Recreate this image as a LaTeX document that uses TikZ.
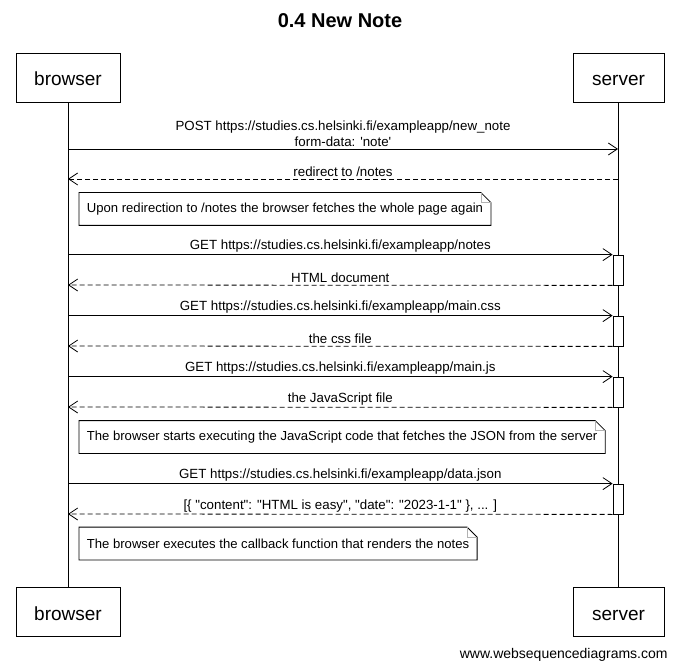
\documentclass[tikz,border=0pt]{standalone}
\usepackage{fontspec}
\setmainfont{Liberation Sans}[Ligatures=TeXOff]
\usetikzlibrary{arrows.meta}

\begin{document}
\begin{tikzpicture}[x=1pt,y=-1pt,line width=0.8pt,>={Straight Barb[length=9pt,width=12pt]},font=\fontsize{13.3}{15.5}\selectfont]
\tikzstyle{actor}=[draw,minimum height=49pt,text height=18pt,text depth=2pt,font=\fontsize{19}{22}\selectfont]
\tikzstyle{msg}=[->]
\tikzstyle{reply}=[->,dash pattern=on 5pt off 3pt]
\tikzstyle{act}=[draw,fill=white,minimum width=10pt,minimum height=30pt,inner sep=0pt]
\tikzstyle{lbl}=[above,inner sep=2pt,align=center]
\tikzstyle{note}=[anchor=west,inner xsep=7.5pt,minimum height=32pt,font=\fontsize{13.1}{15}\selectfont]
\useasboundingbox (0,0) rectangle (678,671);
\node[font=\bfseries\fontsize{20}{24}\selectfont] (title) at (340,21) {0.4 New Note};
\node[actor,minimum width=104pt] (browserTop) at (68,77.5) {browser};
\node[actor,minimum width=91pt] (serverTop) at (618.5,77.5) {server};
\node[actor,minimum width=104pt] (browserBot) at (68,612) {browser};
\node[actor,minimum width=91pt] (serverBot) at (618.5,612) {server};
\draw (browserTop) -- (browserBot);
\draw (serverTop) -- (serverBot);
\coordinate (b1) at (68,149);
\coordinate (s1) at (618,149);
\coordinate (b2) at (68,179);
\coordinate (s2) at (618,179);
\coordinate (b4) at (68,285);
\coordinate (b6) at (68,346);
\coordinate (b8) at (68,407);
\coordinate (b10) at (68,514);
\node[act] (act1) at (618,270) {};
\node[act] (act2) at (618,331) {};
\node[act] (act3) at (618,392) {};
\node[act] (act4) at (618,499) {};
\draw[msg] (b1) -- node[lbl] {POST https://studies.cs.helsinki.fi/exampleapp/new\_note\\form-data: 'note'} (s1);
\draw[reply] (s2) -- node[lbl] {redirect to /notes} (b2);
\node[note] (note1) at (79,209) {Upon redirection to /notes the browser fetches the whole page again};
\draw[msg] (act1.north west -| b1) -- node[lbl] {GET https://studies.cs.helsinki.fi/exampleapp/notes} (act1.north west);
\draw[reply] (act1.south west) -- node[lbl] {HTML document} (b4);
\draw[msg] (act2.north west -| b1) -- node[lbl] {GET https://studies.cs.helsinki.fi/exampleapp/main.css} (act2.north west);
\draw[reply] (act2.south west) -- node[lbl] {the css file} (b6);
\draw[msg] (act3.north west -| b1) -- node[lbl] {GET https://studies.cs.helsinki.fi/exampleapp/main.js} (act3.north west);
\draw[reply] (act3.south west) -- node[lbl] {the JavaScript file} (b8);
\node[note] (note2) at (79,437) {The browser starts executing the JavaScript code that fetches the JSON from the server};
\draw[msg] (act4.north west -| b1) -- node[lbl] {GET https://studies.cs.helsinki.fi/exampleapp/data.json} (act4.north west);
\draw[reply] (act4.south west) -- node[lbl] {[\{ "content": "HTML is easy", "date": "2023-1-1" \}, ... ]} (b10);
\node[note] (note3) at (79,543.5) {The browser executes the callback function that renders the notes};
\foreach \n in {note1,note2,note3} {
  \draw (\n.north west) -- ([xshift=-10pt]\n.north east) -- ([yshift=-10pt]\n.north east) -- (\n.south east) -- (\n.south west) -- cycle;
  \draw[gray!60] ([xshift=-10pt]\n.north east) |- ([yshift=-10pt]\n.north east);
}
\node[anchor=east,inner sep=0pt,font=\fontsize{14}{16}\selectfont] (footer) at (668,655) {www.websequencediagrams.com};
\end{tikzpicture}
\end{document}
